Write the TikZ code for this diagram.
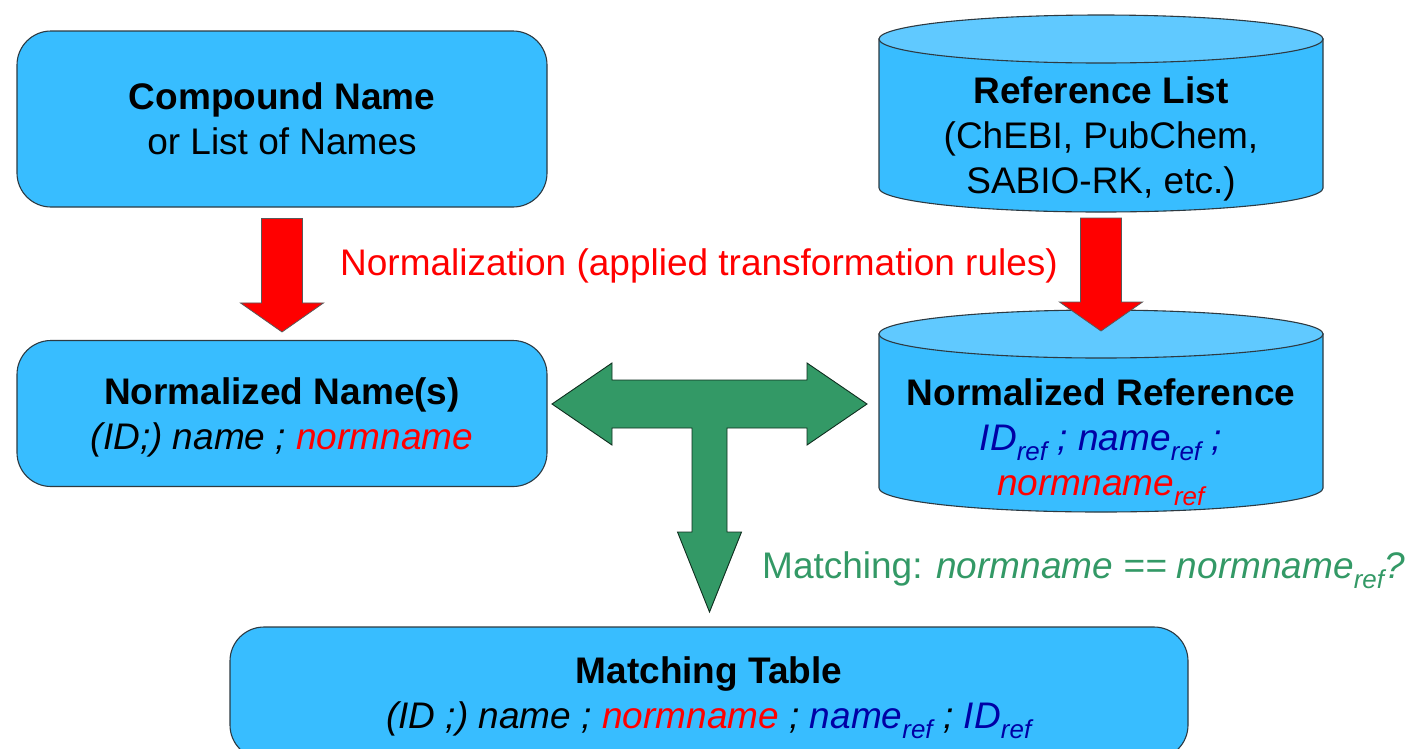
\documentclass[tikz,border=0pt]{standalone}
\usepackage{fontspec}
\setmainfont{Liberation Sans}
\usetikzlibrary{calc}

\definecolor{boxblue}{RGB}{56,189,255}
\definecolor{capblue}{RGB}{96,201,255}
\definecolor{edgegray}{RGB}{45,58,66}
\definecolor{refblue}{RGB}{0,0,165}
\definecolor{matchgreen}{RGB}{51,153,102}
\definecolor{normred}{RGB}{255,0,0}

% subscript "ref" in the current font
\newcommand\rsub{\textsubscript{ref}}

% drum (database cylinder): centre x, top-cap centre y, bottom-cap centre y
\newcommand\drum[3]{%
  \path[drumbody] (#1-222,#2) -- (#1-222,#3)
    arc[start angle=180,end angle=360,x radius=222pt,y radius=24pt]
    -- (#1+222,#2) -- cycle;
  \path[drumcap] (#1,#2) ellipse[x radius=222pt,y radius=24pt];}

% downward block arrow from shaft top (#1) to tip (#2)
\newcommand\downblock[2]{%
  \path[redblock] ($(#1)+(-20.5,0)$) -- ($(#1)+(20.5,0)$)
    -- ($(#2)+(20.5,29)$) -- ($(#2)+(41.5,29)$) -- (#2)
    -- ($(#2)+(-41.5,29)$) -- ($(#2)+(-20.5,29)$) -- cycle;}

\begin{document}
\begin{tikzpicture}[x=1pt,y=1pt,
  every node/.style={font=\fontsize{37}{45}\selectfont},
  txt/.style={align=center,inner sep=0pt,text height=26.5pt,text depth=0pt},
  twolines/.style={text height=71.5pt},
  threelines/.style={text height=116.5pt},
  box/.style={txt,draw=edgegray,line width=1.1pt,fill=boxblue,rounded corners=34pt},
  drumbody/.style={draw=edgegray,line width=1.1pt,fill=boxblue},
  drumcap/.style={draw=edgegray,line width=1.1pt,fill=capblue},
  redblock/.style={fill=normred,draw=black!65,line width=0.8pt},
  greenblock/.style={fill=matchgreen,draw=black!70!matchgreen,line width=0.9pt,line join=miter}]

\useasboundingbox (0,0) rectangle (1410,-748);

% input boxes
\node[box,twolines,minimum width=530pt,minimum height=176pt] (cmp) at (282,-119)
  {\textbf{Compound Name}\\or List of Names};
\node[box,twolines,minimum width=530pt,minimum height=146pt] (nrm) at (282,-413.5)
  {\textbf{Normalized Name(s)}\\\textit{(ID;) name ; \textcolor{normred}{normname}}};

% reference databases
\drum{1101}{-39}{-188}
\node[txt,threelines] (rl) at (1101,-135)
  {\textbf{Reference List}\\(ChEBI, PubChem,\\SABIO-RK, etc.)};
\coordinate (rlbot) at (1101,-212);

\drum{1101}{-334}{-488}
\node[txt,threelines] (nr) at (1101,-437)
  {\textbf{Normalized Reference}\\
   \textcolor{refblue}{\textit{ID\rsub{} ; name\rsub{} ;}}\\
   \textcolor{normred}{\textit{normname\rsub}}};
\coordinate (nrcap) at (1101,-334);

% result table
\node[box,twolines,minimum width=958pt,minimum height=132pt] (mt) at (709,-693)
  {\textbf{Matching Table}\\
   \textit{(ID ;) name ; \textcolor{normred}{normname} ; \textcolor{refblue}{name\rsub} ; \textcolor{refblue}{ID\rsub}}};

% normalization arrows
\coordinate (a1top) at ($(cmp.south)+(0,-11)$);
\coordinate (a1tip) at ($(nrm.north)+(0,8)$);
\downblock{a1top}{a1tip}
\coordinate (a2top) at ($(rlbot)+(0,-6)$);
\coordinate (a2tip) at ($(nrcap)+(0,3)$);
\downblock{a2top}{a2tip}

\node[txt,text=normred] (normlbl) at (699,-262)
  {Normalization (applied transformation rules)};

% matching T-arrow
\coordinate (hub) at (709.5,-404);
\path[greenblock,shift={(hub)}]
  (-157.5,0) -- (-97.5,41) -- (-97.5,24) -- (97.5,24) -- (97.5,41)
  -- (157.5,0) -- (97.5,-41) -- (97.5,-24) -- (17.5,-24) -- (17.5,-128)
  -- (32,-128) -- (0,-208) -- (-32,-128) -- (-17.5,-128) -- (-17.5,-24)
  -- (-97.5,-24) -- (-97.5,-41) -- cycle;

\node[txt,text=matchgreen,anchor=west] (matchlbl) at (762,-565)
  {Matching: \textit{normname == normname\rsub?}};
\end{tikzpicture}
\end{document}
